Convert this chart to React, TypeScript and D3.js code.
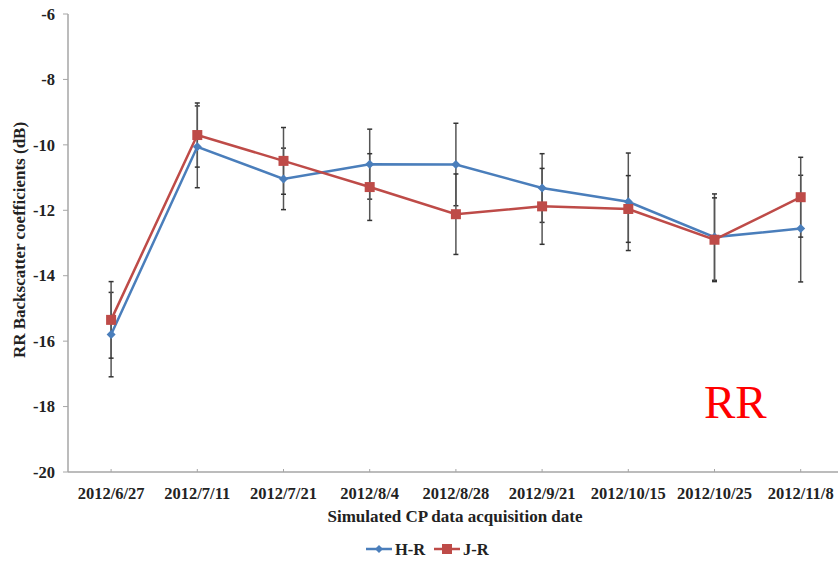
import React from "react";
import * as d3 from "d3";

const categories = ["2012/6/27", "2012/7/11", "2012/7/21", "2012/8/4", "2012/8/28", "2012/9/21", "2012/10/15", "2012/10/25", "2012/11/8"];
const hrValues = [-15.8, -10.06, -11.04, -10.59, -10.6, -11.32, -11.74, -12.82, -12.56];
const hrErrors = [1.29, 1.25, 0.94, 1.07, 1.26, 1.05, 1.49, 1.32, 1.63];
const jrValues = [-15.35, -9.7, -10.49, -11.29, -12.12, -11.88, -11.96, -12.9, -11.6];
const jrErrors = [1.17, 0.98, 1.02, 1.02, 1.23, 1.16, 1.02, 1.28, 1.22];
const yTicks = [-6, -8, -10, -12, -14, -16, -18, -20];

const W = 838, H = 563;
const left = 68, top = 14, bottom = 472;
const blue = "#4A7EBB";
const red = "#BE4B48";
const font = "'Liberation Serif', 'Times New Roman', serif";

export default function App() {
  const x = d3.scaleBand().domain(categories).range([left, left + 86.2 * 9]).padding(0);
  const cx = (c: string) => (x(c) as number) + x.bandwidth() / 2;
  const y = d3.scaleLinear().domain([-20, -6]).range([bottom, top]);
  const line = d3.line<number>().x((_, i) => cx(categories[i])).y((d) => y(d));

  const errBars = (vals: number[], errs: number[], key: string) =>
    vals.map((v, i) => {
      const xx = cx(categories[i]);
      const y1 = y(v + errs[i]);
      const y2 = y(v - errs[i]);
      return (
        <g key={key + i} stroke="#333" strokeWidth={1.5}>
          <line x1={xx} x2={xx} y1={y1} y2={y2} stroke="#555" />
          <line x1={xx - 2.5} x2={xx + 2.5} y1={y1} y2={y1} />
          <line x1={xx - 2.5} x2={xx + 2.5} y1={y2} y2={y2} />
        </g>
      );
    });

  return (
    <svg width={W} height={H} style={{ position: "absolute", left: 0, top: 0 }}>
      <rect width={W} height={H} fill="#fff" />
      {/* axes */}
      <line x1={left} x2={left} y1={top} y2={bottom} stroke="#a6a6a6" strokeWidth={1.5} />
      <line x1={left} x2={W} y1={bottom} y2={bottom} stroke="#a6a6a6" strokeWidth={1.5} />
      {yTicks.map((t) => (
        <g key={t}>
          <line x1={left - 5} x2={left} y1={y(t)} y2={y(t)} stroke="#a6a6a6" strokeWidth={1} />
          <text x={55} y={y(t)} dy="0.35em" textAnchor="end" fontFamily={font} fontWeight="bold" fontSize={16.5} fill="#222">
            {t}
          </text>
        </g>
      ))}
      {categories.map((c) => (
        <g key={c}>
          <line x1={cx(c)} x2={cx(c)} y1={bottom - 3} y2={bottom} stroke="#a6a6a6" strokeWidth={1} />
          <text x={cx(c)} y={499} textAnchor="middle" fontFamily={font} fontWeight="bold" fontSize={16.5} fill="#222">
            {c}
          </text>
        </g>
      ))}
      <text x={455} y={522} textAnchor="middle" fontFamily={font} fontWeight="bold" fontSize={17} fill="#222">
        Simulated CP data acquisition date
      </text>
      <text transform="translate(25,240) rotate(-90)" textAnchor="middle" fontFamily={font} fontWeight="bold" fontSize={17} fill="#222">
        RR Backscatter coefficients (dB)
      </text>
      {/* error bars */}
      {errBars(hrValues, hrErrors, "h")}
      {errBars(jrValues, jrErrors, "j")}
      {/* lines */}
      <path d={line(hrValues) as string} fill="none" stroke={blue} strokeWidth={2.5} />
      <path d={line(jrValues) as string} fill="none" stroke={red} strokeWidth={2.5} />
      {hrValues.map((v, i) => {
        const xx = cx(categories[i]);
        const yy = y(v);
        return <path key={"hd" + i} d={`M${xx},${yy - 4.5}L${xx + 4.5},${yy}L${xx},${yy + 4.5}L${xx - 4.5},${yy}Z`} fill={blue} />;
      })}
      {jrValues.map((v, i) => {
        const xx = cx(categories[i]);
        const yy = y(v);
        return <rect key={"js" + i} x={xx - 5} y={yy - 5} width={10} height={10} fill={red} />;
      })}
      {/* legend */}
      <g fontFamily={font} fontWeight="bold" fontSize={16.5} fill="#222">
        <line x1={366} x2={392} y1={549} y2={549} stroke={blue} strokeWidth={2.5} />
        <path d="M379,545L383,549L379,553L375,549Z" fill={blue} />
        <text x={395} y={555}>H-R</text>
        <line x1={434} x2={460} y1={549} y2={549} stroke={red} strokeWidth={2.5} />
        <rect x={442} y={544} width={10} height={10} fill={red} />
        <text x={463} y={555}>J-R</text>
      </g>
      <text x={704} y={418} fontFamily={font} fontSize={47} fill="#ff0000">RR</text>
    </svg>
  );
}
